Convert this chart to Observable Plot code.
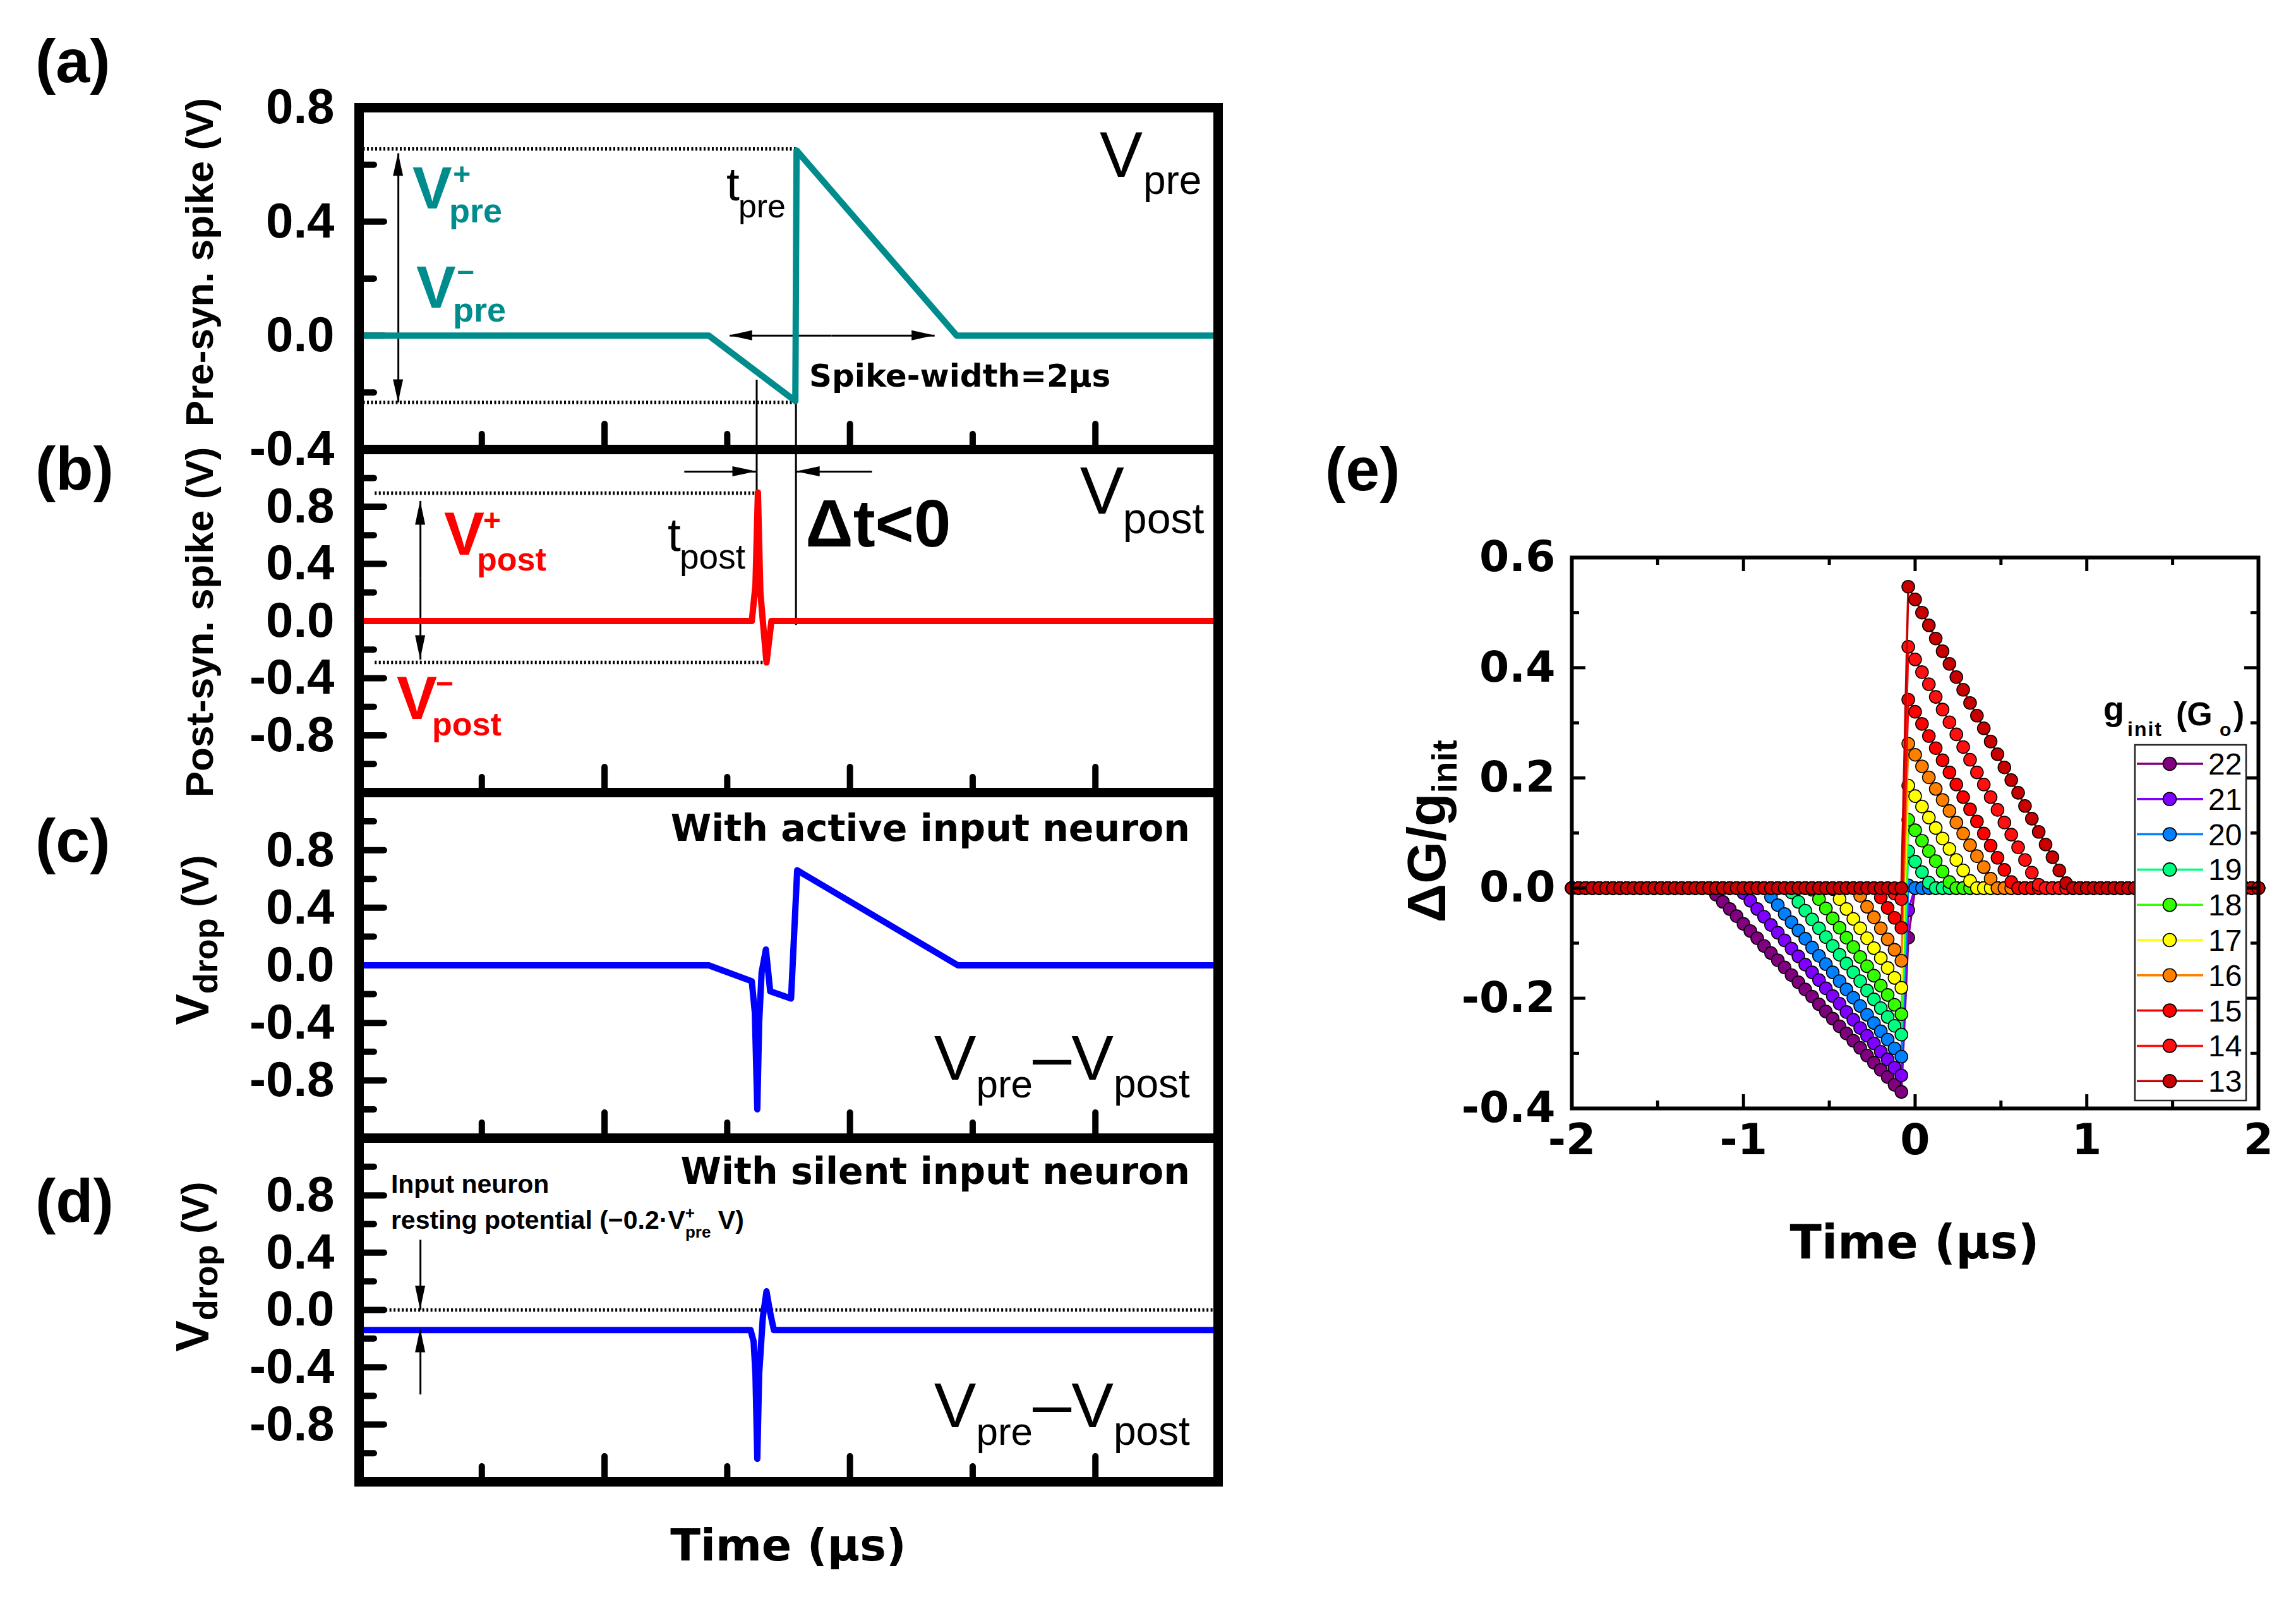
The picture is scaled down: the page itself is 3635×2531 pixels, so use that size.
<!DOCTYPE html>
<html>
<head>
<meta charset="utf-8">
<script src="https://cdn.jsdelivr.net/npm/d3@7"></script>
<script src="https://cdn.jsdelivr.net/npm/@observablehq/plot@0.6"></script>
<style>
html, body { margin: 0; padding: 0; background: #fff; }
#root { position: relative; width: 3635px; height: 2531px; background: #fff; overflow: hidden; }
</style>
</head>
<body>
<div id="root"></div>
<script>
// ---------------- DATA: panels (a)-(d), time in µs, voltage in V ----------------
const preTime  = [0, 2.85, 3.555, 3.565, 4.87, 7];
const preVolt  = [0, 0, -0.23, 0.65, 0, 0];
const postTime = [0, 3.20, 3.23, 3.25, 3.27, 3.29, 3.32, 3.36, 7];
const postVolt = [0, 0, 0.25, 0.90, 0.20, 0.00, -0.29, 0, 0];
const activeTime = [0, 2.85, 3.20, 3.225, 3.245, 3.26, 3.28, 3.315, 3.35, 3.52, 3.57, 4.88, 7];
const activeVolt = [0, 0, -0.11, -0.33, -1.00, -0.40, -0.05, 0.11, -0.18, -0.23, 0.66, 0, 0];
const silentTime = [0, 3.19, 3.215, 3.23, 3.245, 3.26, 3.29, 3.32, 3.35, 3.38, 7];
const silentVolt = [-0.14, -0.14, -0.22, -0.45, -1.04, -0.45, -0.05, 0.13, -0.02, -0.14, -0.14];

// tick values
const xMajorLeft = [2, 4, 6];
const xMinorLeft = [1, 3, 5];
const aYMajor = [0.4, 0.0];
const aYMinor = [0.6, 0.2, -0.2];
const aYLabels = [0.8, 0.4, 0.0, -0.4];
const bYMajor = [0.8, 0.4, 0.0, -0.4, -0.8];
const bYMinor = [1.0, 0.6, 0.2, -0.2, -0.6, -1.0];
const bYLabels = [0.8, 0.4, 0.0, -0.4, -0.8];

// annotation geometry (data units)
const aDotted = [{v: 0.655, t1: 0, t2: 3.56}, {v: -0.235, t1: 0, t2: 3.56}];
const aGuides = [{t: 3.24, v1: -0.156, v2: -0.4}, {t: 3.56, v1: -0.235, v2: -0.4}];
const aArrows = [
  {x1: 0.32, y1: 0.2, x2: 0.32, y2: 0.64}, {x1: 0.32, y1: 0.2, x2: 0.32, y2: -0.235},
  {x1: 3.85, y1: 0, x2: 3.02, y2: 0}, {x1: 3.85, y1: 0, x2: 4.69, y2: 0}
];
const bDotted = [{v: 0.895, t1: 0.13, t2: 3.24}, {v: -0.29, t1: 0.13, t2: 3.32}];
const bGuides = [{t: 3.24, v1: 1.2, v2: 0.9}, {t: 3.56, v1: 1.2, v2: -0.03}];
const bArrows = [
  {x1: 0.5, y1: 0.3, x2: 0.5, y2: 0.84}, {x1: 0.5, y1: 0.3, x2: 0.5, y2: -0.27},
  {x1: 2.65, y1: 1.045, x2: 3.24, y2: 1.045}, {x1: 4.18, y1: 1.045, x2: 3.56, y2: 1.045}
];
const dDotted = [{v: 0, t1: 0.15, t2: 7}];
const dArrows = [{x1: 0.5, y1: 0.49, x2: 0.5, y2: 0.0}, {x1: 0.5, y1: -0.59, x2: 0.5, y2: -0.13}];

// ---------------- DATA: panel (e) ----------------
const gInit = [22, 21, 20, 19, 18, 17, 16, 15, 14, 13];
const gColors = ["#800080", "#8000FF", "#0080FF", "#00FF80", "#33FF00", "#FFFF00", "#FF8000", "#FF0000", "#FF1010", "#C80000"];
const gTime = [
  -2,-1.96,-1.92,-1.88,-1.84,-1.8,-1.76,-1.72,-1.68,-1.64,
  -1.6,-1.56,-1.52,-1.48,-1.44,-1.4,-1.36,-1.32,-1.28,-1.24,
  -1.2,-1.16,-1.12,-1.08,-1.04,-1,-0.96,-0.92,-0.88,-0.84,
  -0.8,-0.76,-0.72,-0.68,-0.64,-0.6,-0.56,-0.52,-0.48,-0.44,
  -0.4,-0.36,-0.32,-0.28,-0.24,-0.2,-0.16,-0.12,-0.08,-0.04,
  0,0.04,0.08,0.12,0.16,0.2,0.24,0.28,0.32,0.36,
  0.4,0.44,0.48,0.52,0.56,0.6,0.64,0.68,0.72,0.76,
  0.8,0.84,0.88,0.92,0.96,1,1.04,1.08,1.12,1.16,
  1.2,1.24,1.28,1.32,1.36,1.4,1.44,1.48,1.52,1.56,
  1.6,1.64,1.68,1.72,1.76,1.8,1.84,1.88,1.92,1.96,
  2];
const dG22 = [
  0,0,0,0,0,0,0,0,0,0,
  0,0,0,0,0,0,0,0,0,0,
  0,-.012,-.025,-.038,-.051,-.065,-.078,-.091,-.105,-.118,
  -.131,-.144,-.158,-.171,-.184,-.197,-.211,-.224,-.237,-.251,
  -.264,-.277,-.290,-.304,-.317,-.330,-.343,-.357,-.370,-.090,
  0,0,0,0,0,0,0,0,0,0,
  0,0,0,0,0,0,0,0,0,0,
  0,0,0,0,0,0,0,0,0,0,
  0,0,0,0,0,0,0,0,0,0,
  0,0,0,0,0,0,0,0,0,0,
  0];
const dG21 = [
  0,0,0,0,0,0,0,0,0,0,
  0,0,0,0,0,0,0,0,0,0,
  0,0,0,0,0,-.009,-.023,-.038,-.052,-.067,
  -.081,-.095,-.110,-.124,-.139,-.153,-.167,-.182,-.196,-.210,
  -.225,-.239,-.254,-.268,-.282,-.297,-.311,-.326,-.340,-.040,
  0,0,0,0,0,0,0,0,0,0,
  0,0,0,0,0,0,0,0,0,0,
  0,0,0,0,0,0,0,0,0,0,
  0,0,0,0,0,0,0,0,0,0,
  0,0,0,0,0,0,0,0,0,0,
  0];
const dG20 = [
  0,0,0,0,0,0,0,0,0,0,
  0,0,0,0,0,0,0,0,0,0,
  0,0,0,0,0,0,0,0,0,-.016,
  -.031,-.047,-.062,-.077,-.092,-.108,-.123,-.138,-.153,-.169,
  -.184,-.199,-.214,-.230,-.245,-.260,-.275,-.291,-.306,.005,
  0,0,0,0,0,0,0,0,0,0,
  0,0,0,0,0,0,0,0,0,0,
  0,0,0,0,0,0,0,0,0,0,
  0,0,0,0,0,0,0,0,0,0,
  0,0,0,0,0,0,0,0,0,0,
  0];
const dG19 = [
  0,0,0,0,0,0,0,0,0,0,
  0,0,0,0,0,0,0,0,0,0,
  0,0,0,0,0,0,0,0,0,0,
  0,0,-.008,-.025,-.041,-.057,-.073,-.089,-.105,-.121,
  -.137,-.153,-.169,-.186,-.202,-.218,-.234,-.250,-.266,.067,
  .048,.029,.010,0,0,0,0,0,0,0,
  0,0,0,0,0,0,0,0,0,0,
  0,0,0,0,0,0,0,0,0,0,
  0,0,0,0,0,0,0,0,0,0,
  0,0,0,0,0,0,0,0,0,0,
  0];
const dG18 = [
  0,0,0,0,0,0,0,0,0,0,
  0,0,0,0,0,0,0,0,0,0,
  0,0,0,0,0,0,0,0,0,0,
  0,0,0,0,0,-.003,-.020,-.037,-.055,-.072,
  -.090,-.107,-.125,-.142,-.159,-.177,-.194,-.212,-.229,.124,
  .105,.086,.067,.049,.030,.011,0,0,0,0,
  0,0,0,0,0,0,0,0,0,0,
  0,0,0,0,0,0,0,0,0,0,
  0,0,0,0,0,0,0,0,0,0,
  0,0,0,0,0,0,0,0,0,0,
  0];
const dG17 = [
  0,0,0,0,0,0,0,0,0,0,
  0,0,0,0,0,0,0,0,0,0,
  0,0,0,0,0,0,0,0,0,0,
  0,0,0,0,0,0,0,0,-.002,-.020,
  -.038,-.056,-.073,-.091,-.109,-.127,-.145,-.163,-.181,.186,
  .167,.148,.128,.109,.090,.071,.051,.032,.013,0,
  0,0,0,0,0,0,0,0,0,0,
  0,0,0,0,0,0,0,0,0,0,
  0,0,0,0,0,0,0,0,0,0,
  0,0,0,0,0,0,0,0,0,0,
  0];
const dG16 = [
  0,0,0,0,0,0,0,0,0,0,
  0,0,0,0,0,0,0,0,0,0,
  0,0,0,0,0,0,0,0,0,0,
  0,0,0,0,0,0,0,0,0,0,
  0,0,-.014,-.034,-.053,-.073,-.093,-.112,-.132,.262,
  .242,.221,.201,.180,.160,.140,.119,.099,.078,.058,
  .038,.017,0,0,0,0,0,0,0,0,
  0,0,0,0,0,0,0,0,0,0,
  0,0,0,0,0,0,0,0,0,0,
  0,0,0,0,0,0,0,0,0,0,
  0];
const dG15 = [
  0,0,0,0,0,0,0,0,0,0,
  0,0,0,0,0,0,0,0,0,0,
  0,0,0,0,0,0,0,0,0,0,
  0,0,0,0,0,0,0,0,0,0,
  0,0,0,0,0,-.017,-.036,-.054,-.072,.342,
  .320,.298,.276,.254,.232,.210,.188,.165,.143,.121,
  .099,.077,.055,.033,.011,0,0,0,0,0,
  0,0,0,0,0,0,0,0,0,0,
  0,0,0,0,0,0,0,0,0,0,
  0,0,0,0,0,0,0,0,0,0,
  0];
const dG14 = [
  0,0,0,0,0,0,0,0,0,0,
  0,0,0,0,0,0,0,0,0,0,
  0,0,0,0,0,0,0,0,0,0,
  0,0,0,0,0,0,0,0,0,0,
  0,0,0,0,0,0,0,-.010,-.020,.438,
  .415,.392,.370,.347,.324,.301,.279,.256,.233,.210,
  .188,.165,.142,.119,.097,.074,.051,.028,.006,0,
  0,0,0,0,0,0,0,0,0,0,
  0,0,0,0,0,0,0,0,0,0,
  0,0,0,0,0,0,0,0,0,0,
  0];
const dG13 = [
  0,0,0,0,0,0,0,0,0,0,
  0,0,0,0,0,0,0,0,0,0,
  0,0,0,0,0,0,0,0,0,0,
  0,0,0,0,0,0,0,0,0,0,
  0,0,0,0,0,0,0,0,0,.547,
  .524,.500,.477,.453,.430,.407,.383,.360,.336,.313,
  .290,.266,.243,.219,.196,.173,.149,.126,.102,.079,
  .056,.032,.009,0,0,0,0,0,0,0,
  0,0,0,0,0,0,0,0,0,0,
  0,0,0,0,0,0,0,0,0,0,
  0];
const gSeries = [dG22, dG21, dG20, dG19, dG18, dG17, dG16, dG15, dG14, dG13];
const eXMajor = [-2, -1, 0, 1, 2];
const eXMinor = [-1.5, -0.5, 0.5, 1.5];
const eYMajor = [-0.4, -0.2, 0.0, 0.2, 0.4, 0.6];
const eYMinor = [-0.3, -0.1, 0.1, 0.3, 0.5];

// ---------------- helpers ----------------
const FONT = "'Liberation Sans', Arial, Helvetica, sans-serif";
const WIDE = "'DejaVu Sans', Verdana, sans-serif";
const TEAL = "#008C8C", RED = "#FF0000", BLUE = "#0000FF";
const root = document.getElementById("root");
const STYLE = {background: "transparent", overflow: "visible", maxWidth: "none"};

function place(node, left, top) {
  node.style.position = "absolute";
  node.style.left = left + "px";
  node.style.top = top + "px";
  root.appendChild(node);
}
function zip(ts, vs) { return ts.map((t, i) => ({t, v: vs[i]})); }

function pieces(node, X, Y, list, fill, anchor) {
  const g = d3.select(node).append("g").attr("fill", fill || "black");
  for (const p of list) {
    const t = g.append("text")
      .attr("x", X + (p.dx || 0)).attr("y", Y + (p.dy || 0))
      .attr("font-family", p.ff || FONT).attr("font-size", p.fs)
      .attr("font-weight", p.fw || "normal")
      .attr("text-anchor", p.anchor || anchor || "start")
      .text(p.s);
    if (p.ls) t.attr("letter-spacing", p.ls);
  }
}
function spans(node, X, Y, list, opts = {}) {
  const t = d3.select(node).append("text").attr("x", X).attr("y", Y)
    .attr("text-anchor", opts.anchor || "start").attr("fill", opts.fill || "black")
    .attr("font-family", opts.ff || FONT);
  if (opts.transform) t.attr("transform", opts.transform);
  for (const p of list) {
    const ts = t.append("tspan").attr("font-size", p.fs).attr("font-weight", p.fw || "normal").text(p.s);
    if (p.dx) ts.attr("dx", p.dx);
    if (p.dy) ts.attr("dy", p.dy);
    if (p.ff) ts.attr("font-family", p.ff);
  }
}
function heads(plot, arrows, L, w) {
  const sx = plot.scale("x"), sy = plot.scale("y");
  const g = d3.select(plot).append("g").attr("fill", "black");
  for (const a of arrows) {
    const x1 = sx.apply(a.x1), y1 = sy.apply(a.y1), x2 = sx.apply(a.x2), y2 = sy.apply(a.y2);
    const len = Math.hypot(x2 - x1, y2 - y1), ux = (x2 - x1) / len, uy = (y2 - y1) / len;
    const bx = x2 - ux * L, by = y2 - uy * L, nx = -uy, ny = ux;
    g.append("path").attr("d", `M${x2},${y2}L${bx + nx * w},${by + ny * w}L${bx - nx * w},${by - ny * w}Z`);
  }
}

// ---------------- left panels ----------------
function leftPanel(cfg) {
  const pad = 40, W = 1960, mL = 568, mR = 32;
  const pxX = (W - mL - mR) / 7;
  const pxY = cfg.h / (cfg.domain[1] - cfg.domain[0]);
  const y0 = cfg.domain[0];
  const tickStyle = {stroke: "black", strokeWidth: 10, strokeLinecap: "round"};
  const marks = [
    Plot.ruleY(cfg.major, {y: d => d, x1: () => 0, x2: () => 40 / pxX, ...tickStyle}),
    Plot.ruleY(cfg.minor, {y: d => d, x1: () => 0, x2: () => 24 / pxX, ...tickStyle}),
    Plot.ruleX(xMajorLeft, {x: d => d, y1: () => y0, y2: () => y0 + 40 / pxY, ...tickStyle}),
    Plot.ruleX(xMinorLeft, {x: d => d, y1: () => y0, y2: () => y0 + 24 / pxY, ...tickStyle}),
    ...cfg.marks,
    Plot.text(cfg.labels, {y: d => d, frameAnchor: "left", dx: -39, textAnchor: "end",
      text: d => d.toFixed(1), fontSize: 78, fontWeight: "bold", fontFamily: FONT, fill: "black"}),
    Plot.frame({stroke: "black", strokeWidth: 15})
  ];
  const plot = Plot.plot({
    width: W, height: cfg.h + 2 * pad,
    marginLeft: mL, marginRight: mR, marginTop: pad, marginBottom: pad,
    x: {domain: [0, 7], axis: null},
    y: {domain: cfg.domain, axis: null},
    style: STYLE,
    marks
  });
  place(plot, 0, cfg.top - pad);
  return plot;
}
function guideMarks(dotted, guides, arrows) {
  const m = [];
  if (dotted) m.push(Plot.ruleY(dotted, {y: "v", x1: "t1", x2: "t2", stroke: "black", strokeWidth: 5.5, strokeDasharray: "3,3.5"}));
  if (guides) m.push(Plot.ruleX(guides, {x: "t", y1: "v1", y2: "v2", stroke: "black", strokeWidth: 3}));
  if (arrows) m.push(Plot.link(arrows, {x1: "x1", y1: "y1", x2: "x2", y2: "y2", stroke: "black", strokeWidth: 3}));
  return m;
}

// (a)
const pA = leftPanel({
  top: 170, h: 541, domain: [-0.4, 0.8], major: aYMajor, minor: aYMinor, labels: aYLabels,
  marks: [...guideMarks(aDotted, aGuides, aArrows),
    Plot.line(zip(preTime, preVolt), {x: "t", y: "v", stroke: TEAL, strokeWidth: 10})]
});
heads(pA, aArrows, 36, 8);
{
  const sx = pA.scale("x"), sy = pA.scale("y");
  pieces(pA, sx.apply(0.437), sy.apply(0.445), [
    {s: "V", fs: 94, fw: "bold"}, {s: "+", fs: 48, fw: "bold", dx: 64, dy: -38}, {s: "pre", fs: 54, fw: "bold", dx: 58, dy: 22}], TEAL);
  pieces(pA, sx.apply(0.468), sy.apply(0.097), [
    {s: "V", fs: 94, fw: "bold"}, {s: "\u2212", fs: 48, fw: "bold", dx: 64, dy: -40}, {s: "pre", fs: 54, fw: "bold", dx: 58, dy: 22}], TEAL);
  pieces(pA, sx.apply(2.995), sy.apply(0.474), [
    {s: "t", fs: 75}, {s: "pre", fs: 52, dx: 19, dy: 27}]);
  pieces(pA, sx.apply(6.037), sy.apply(0.556), [
    {s: "V", fs: 102}, {s: "pre", fs: 64, dx: 69, dy: 27}]);
  pieces(pA, sx.apply(3.67), sy.apply(-0.18), [
    {s: "Spike-width=2\u03bcs", fs: 50, fw: "bold", ff: WIDE}]);
}

// (b)
const pB = leftPanel({
  top: 711, h: 543, domain: [-1.2, 1.2], major: bYMajor, minor: bYMinor, labels: bYLabels,
  marks: [...guideMarks(bDotted, bGuides, bArrows),
    Plot.line(zip(postTime, postVolt), {x: "t", y: "v", stroke: RED, strokeWidth: 10})]
});
heads(pB, bArrows, 38, 8);
{
  const sx = pB.scale("x"), sy = pB.scale("y");
  pieces(pB, sx.apply(0.695), sy.apply(0.462), [
    {s: "V", fs: 96, fw: "bold"}, {s: "+", fs: 48, fw: "bold", dx: 62, dy: -38}, {s: "post", fs: 52, fw: "bold", dx: 52, dy: 25}], RED);
  pieces(pB, sx.apply(0.309), sy.apply(-0.687), [
    {s: "V", fs: 96, fw: "bold"}, {s: "\u2212", fs: 48, fw: "bold", dx: 62, dy: -40}, {s: "post", fs: 52, fw: "bold", dx: 56, dy: 26}], RED);
  pieces(pB, sx.apply(2.517), sy.apply(0.488), [
    {s: "t", fs: 75}, {s: "post", fs: 55, dx: 19, dy: 28}]);
  pieces(pB, sx.apply(3.64), sy.apply(0.52), [
    {s: "\u0394t<0", fs: 105, fw: "bold"}]);
  pieces(pB, sx.apply(5.877), sy.apply(0.749), [
    {s: "V", fs: 105}, {s: "post", fs: 68, dx: 68, dy: 31}]);
}

// (c)
const pC = leftPanel({
  top: 1254, h: 547, domain: [-1.2, 1.2], major: bYMajor, minor: bYMinor, labels: bYLabels,
  marks: [Plot.line(zip(activeTime, activeVolt), {x: "t", y: "v", stroke: BLUE, strokeWidth: 10})]
});
{
  const sx = pC.scale("x"), sy = pC.scale("y");
  pieces(pC, sx.apply(6.773), sy.apply(0.862), [
    {s: "With active input neuron", fs: 58.5, fw: "bold", ff: WIDE}], "black", "end");
  spans(pC, sx.apply(6.773), sy.apply(-0.796), [
    {s: "V", fs: 100}, {s: "pre", fs: 62, dy: 28}, {s: "\u2013", fs: 110, dy: -28}, {s: "V", fs: 100}, {s: "post", fs: 64, dy: 28}],
    {anchor: "end"});
}

// (d)
const pD = leftPanel({
  top: 1801, h: 544, domain: [-1.2, 1.2], major: bYMajor, minor: bYMinor, labels: bYLabels,
  marks: [...guideMarks(dDotted, null, dArrows),
    Plot.line(zip(silentTime, silentVolt), {x: "t", y: "v", stroke: BLUE, strokeWidth: 10})]
});
heads(pD, dArrows, 38, 8);
{
  const sx = pD.scale("x"), sy = pD.scale("y");
  pieces(pD, sx.apply(6.773), sy.apply(0.88), [
    {s: "With silent input neuron", fs: 58.5, fw: "bold", ff: WIDE}], "black", "end");
  spans(pD, sx.apply(6.773), sy.apply(-0.82), [
    {s: "V", fs: 100}, {s: "pre", fs: 62, dy: 28}, {s: "\u2013", fs: 110, dy: -28}, {s: "V", fs: 100}, {s: "post", fs: 64, dy: 28}],
    {anchor: "end"});
  pieces(pD, sx.apply(0.262), sy.apply(0.816), [{s: "Input neuron", fs: 41, fw: "bold"}]);
  spans(pD, sx.apply(0.262), sy.apply(0.565), [
    {s: "resting potential (\u22120.2\u00b7V", fs: 41, fw: "bold"},
    {s: "+", fs: 26, fw: "bold", dy: -16},
    {s: "pre", fs: 26, fw: "bold", dx: -15, dy: 30},
    {s: " V)", fs: 41, fw: "bold", dy: -14}]);
}

// ---------------- panel (e) ----------------
{
  const W = 1320, mL = 188, frameW = 1087, mR = W - mL - frameW, mT = 40, frameH = 872, mB = 140;
  const pxX = frameW / 4, pxY = frameH / 1.0;
  const tk = {stroke: "black", strokeWidth: 5};
  const seriesMarks = [];
  gSeries.forEach((vals, k) => {
    const data = zip(gTime, vals);
    seriesMarks.push(Plot.line(data, {x: "t", y: "v", stroke: gColors[k], strokeWidth: 3.5}));
    seriesMarks.push(Plot.dot(data, {x: "t", y: "v", r: 10, fill: gColors[k], stroke: "black", strokeWidth: 1.6}));
  });
  const pE = Plot.plot({
    width: W, height: mT + frameH + mB,
    marginLeft: mL, marginRight: mR, marginTop: mT, marginBottom: mB,
    x: {domain: [-2, 2], axis: null},
    y: {domain: [-0.4, 0.6], axis: null},
    style: STYLE,
    marks: [
      ...seriesMarks,
      Plot.ruleX(eXMajor, {x: d => d, y1: () => -0.4, y2: () => -0.4 + 22 / pxY, ...tk}),
      Plot.ruleX(eXMinor, {x: d => d, y1: () => -0.4, y2: () => -0.4 + 12 / pxY, ...tk}),
      Plot.ruleX(eXMajor, {x: d => d, y1: () => 0.6, y2: () => 0.6 - 22 / pxY, ...tk}),
      Plot.ruleX(eXMinor, {x: d => d, y1: () => 0.6, y2: () => 0.6 - 12 / pxY, ...tk}),
      Plot.ruleY(eYMajor, {y: d => d, x1: () => -2, x2: () => -2 + 22 / pxX, ...tk}),
      Plot.ruleY(eYMinor, {y: d => d, x1: () => -2, x2: () => -2 + 12 / pxX, ...tk}),
      Plot.ruleY(eYMajor, {y: d => d, x1: () => 2, x2: () => 2 - 22 / pxX, ...tk}),
      Plot.ruleY(eYMinor, {y: d => d, x1: () => 2, x2: () => 2 - 12 / pxX, ...tk}),
      Plot.text(eXMajor, {x: d => d, frameAnchor: "bottom", lineAnchor: "top", dy: 24, text: d => String(d),
        fontSize: 68, fontWeight: "bold", fontFamily: WIDE, fill: "black"}),
      Plot.text(eYMajor, {y: d => d, frameAnchor: "left", textAnchor: "end", dx: -26, text: d => d.toFixed(1),
        fontSize: 68, fontWeight: "bold", fontFamily: WIDE, fill: "black"}),
      Plot.frame({stroke: "black", strokeWidth: 6})
    ]
  });
  place(pE, 2300, 882 - mT);
}

// ---------------- page-level text & legend ----------------
const ov = d3.create("svg").attr("width", 3635).attr("height", 2531)
  .style("position", "absolute").style("left", "0px").style("top", "0px").style("overflow", "visible");
const ovn = ov.node();
// panel letters
[["(a)", 56, 130], ["(b)", 56, 775], ["(c)", 56, 1364], ["(d)", 56, 1934], ["(e)", 2098, 776]].forEach(([s, x, y]) =>
  pieces(ovn, x, y, [{s, fs: 97, fw: "bold"}]));
// y titles left
spans(ovn, 0, 0, [{s: "Pre-syn. spike (V)", fs: 62, fw: "bold"}], {anchor: "middle", transform: "translate(337,415) rotate(-90)"});
spans(ovn, 0, 0, [{s: "Post-syn. spike (V)", fs: 62, fw: "bold"}], {anchor: "middle", transform: "translate(337,985) rotate(-90)"});
for (const cy of [1488, 2005]) {
  spans(ovn, 0, 0, [{s: "V", fs: 74, fw: "bold"}, {s: "drop", fs: 54, fw: "bold", dy: 14}, {s: " (V)", fs: 62, fw: "bold", dy: -14}],
    {anchor: "middle", transform: `translate(330,${cy}) rotate(-90)`});
}
// x titles
spans(ovn, 1248, 2470, [{s: "Time (\u03bcs)", fs: 70, fw: "bold"}], {anchor: "middle", ff: WIDE});
spans(ovn, 3031, 1992, [{s: "Time (\u03bcs)", fs: 74, fw: "bold"}], {anchor: "middle", ff: WIDE});
// (e) y title
spans(ovn, 0, 0, [{s: "\u0394G/g", fs: 86, fw: "bold"}, {s: "init", fs: 56, fw: "bold", dy: 18}],
  {anchor: "middle", transform: "translate(2288,1316) rotate(-90)"});
// legend
ov.append("rect").attr("x", 3380).attr("y", 1179).attr("width", 176).attr("height", 563)
  .attr("fill", "white").attr("stroke", "#222").attr("stroke-width", 2.5);
gInit.forEach((g, i) => {
  const y = 1209 + i * 55.8;
  ov.append("line").attr("x1", 3383).attr("x2", 3488).attr("y1", y).attr("y2", y)
    .attr("stroke", gColors[i]).attr("stroke-width", 3.5);
  ov.append("circle").attr("cx", 3435).attr("cy", y).attr("r", 10.5)
    .attr("fill", gColors[i]).attr("stroke", "black").attr("stroke-width", 1.6);
  ov.append("text").attr("x", 3496).attr("y", y + 17).attr("font-size", 48)
    .attr("font-family", FONT).attr("fill", "black").text(g);
});
pieces(ovn, 0, 0, [
  {s: "g", fs: 54, fw: "bold", dx: 3330, dy: 1140},
  {s: "init", fs: 32, fw: "bold", dx: 3368, dy: 1165, ls: 2},
  {s: "(G", fs: 52, fw: "bold", dx: 3445, dy: 1148},
  {s: "o", fs: 30, fw: "bold", dx: 3514, dy: 1165},
  {s: ")", fs: 52, fw: "bold", dx: 3536, dy: 1148}]);
root.appendChild(ovn);
</script>
</body>
</html>
